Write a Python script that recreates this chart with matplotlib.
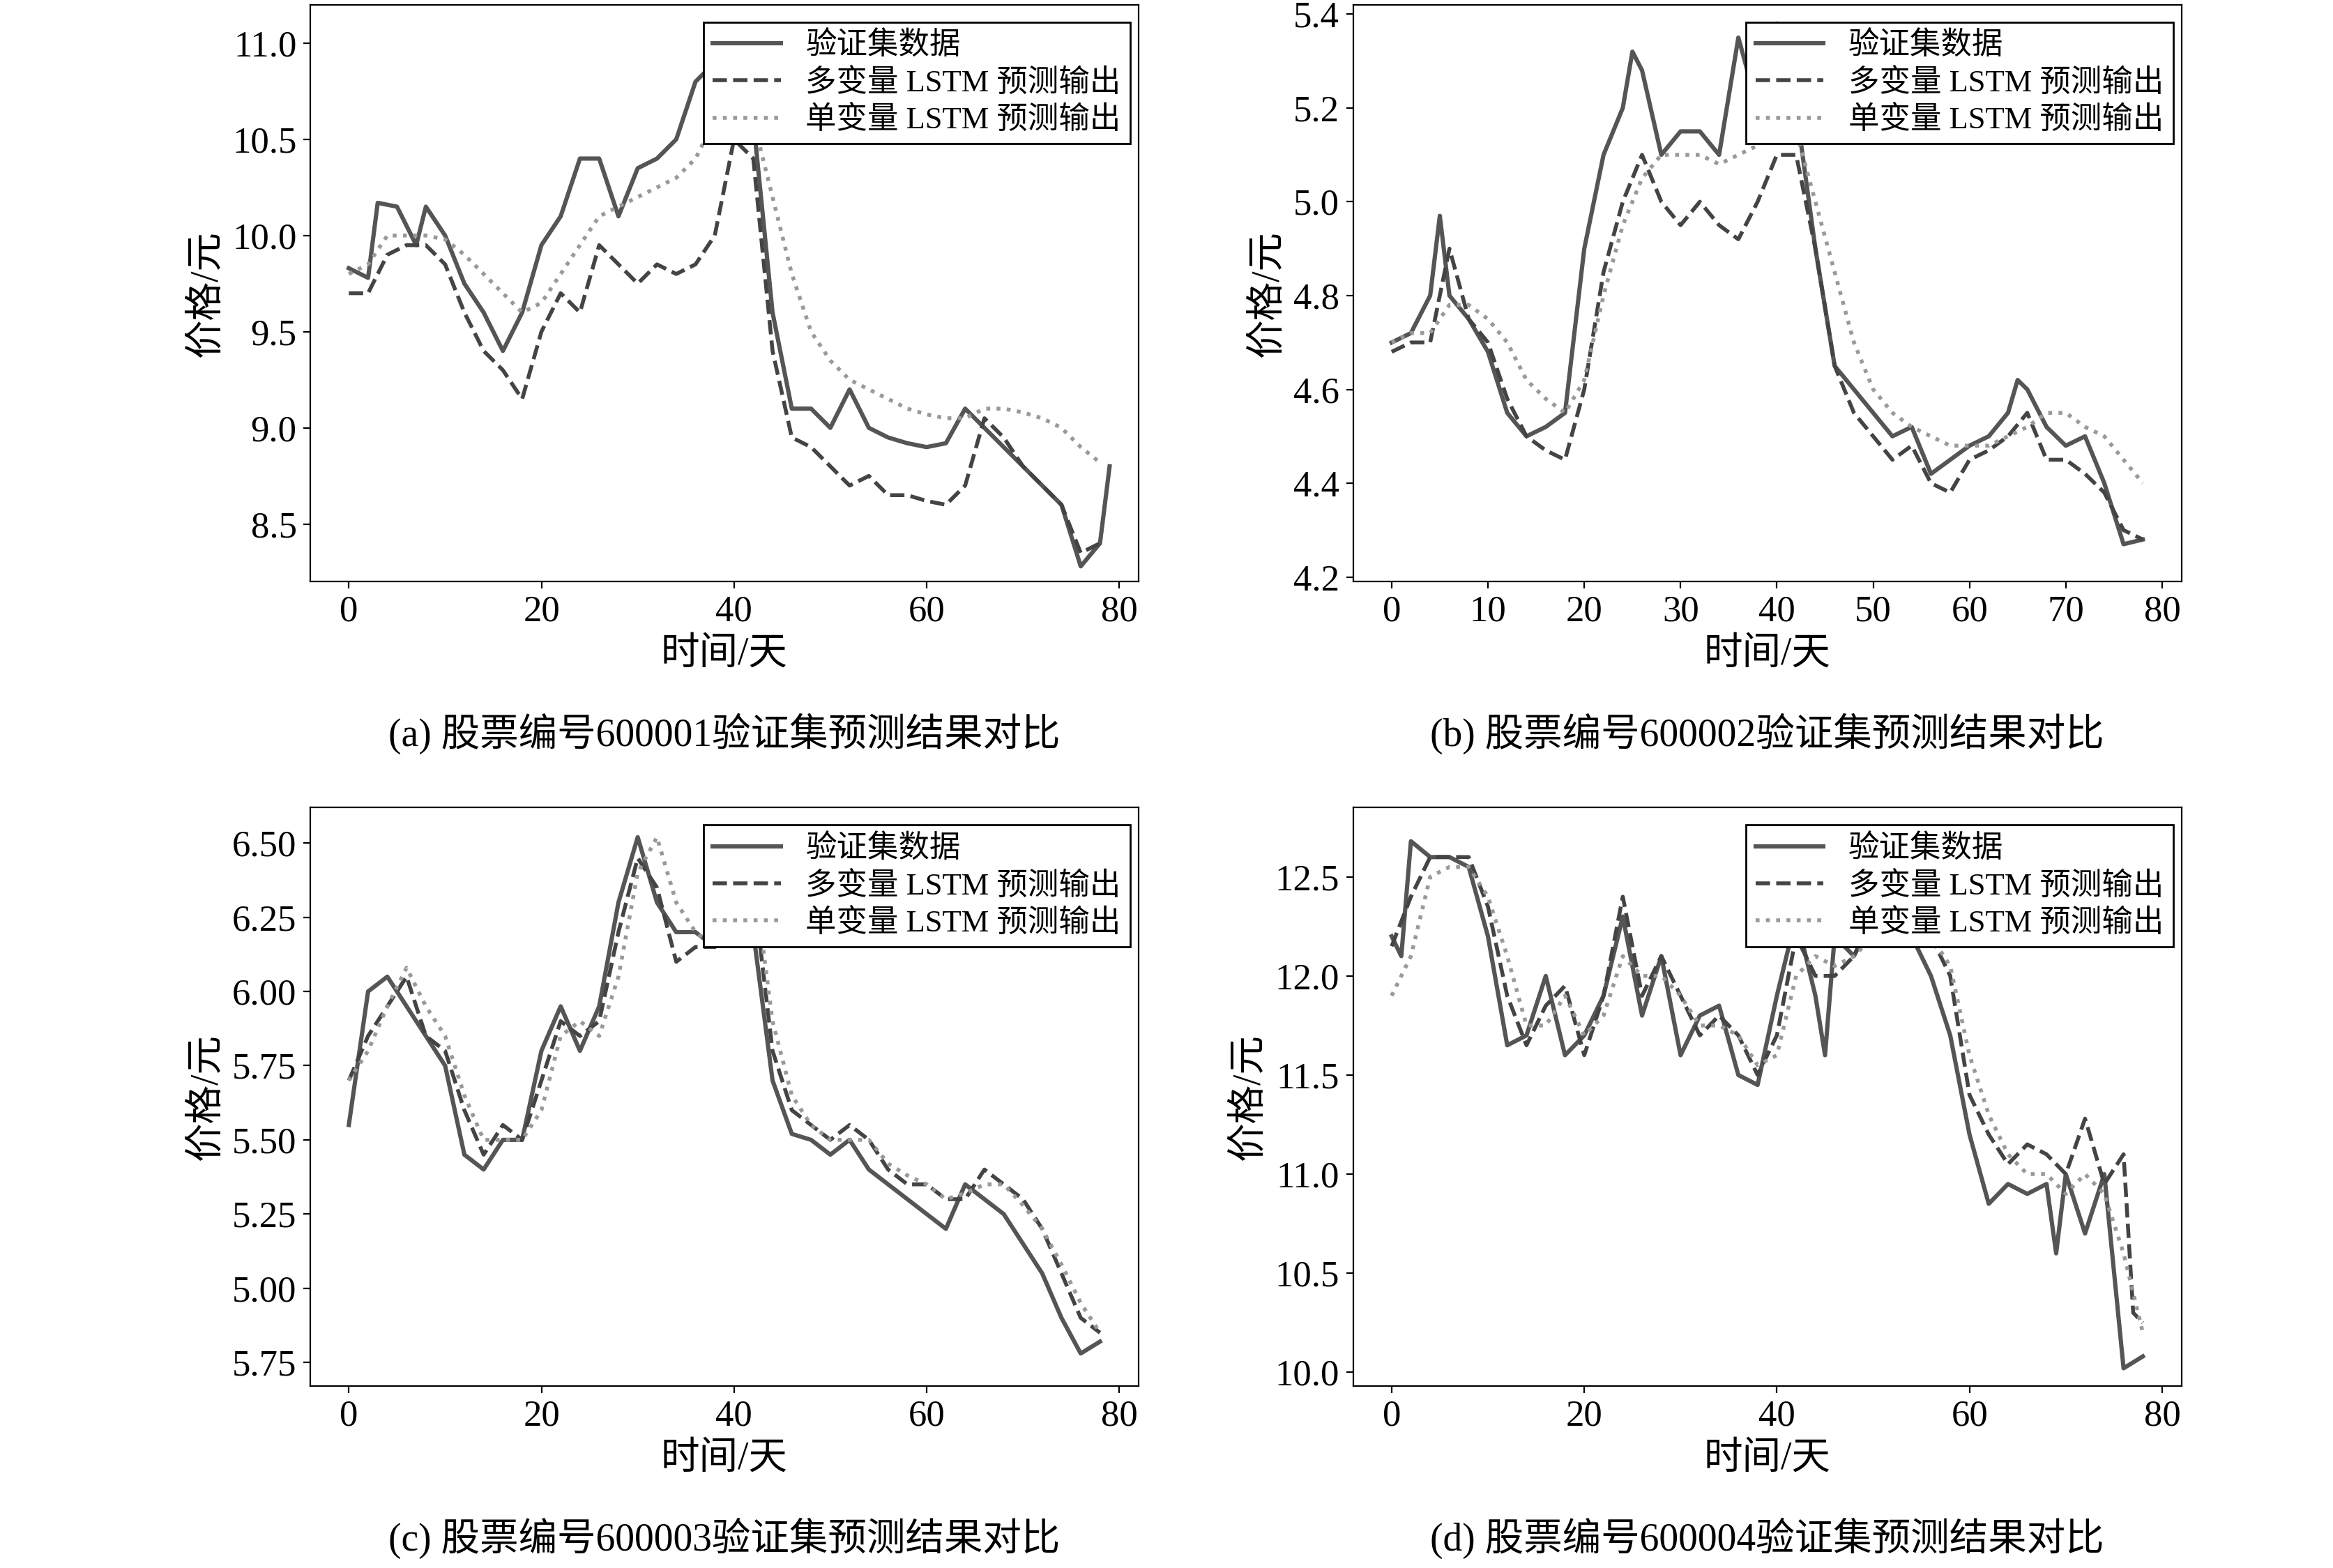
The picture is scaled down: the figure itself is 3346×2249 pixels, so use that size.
import matplotlib.pyplot as plt

plt.rcParams['font.family'] = ['Liberation Serif', 'Noto Sans CJK SC']
plt.rcParams['font.size'] = 19

LABELS = ['验证集数据', '多变量 LSTM 预测输出', '单变量 LSTM 预测输出']

# (天, 价格) pairs
a_true = [(0,9.83),(2,9.78),(3,10.17),(5,10.15),(6,10.05),(7,9.95),(8,10.15),(10,10.0),(12,9.75),(14,9.6),(16,9.4),(18,9.6),(20,9.95),(22,10.1),(24,10.4),(26,10.4),(28,10.1),(30,10.35),(32,10.4),(34,10.5),(36,10.8),(38,10.9),(40,11.1),(42,10.6),(44,9.6),(46,9.1),(48,9.1),(50,9.0),(52,9.2),(54,9.0),(56,8.95),(58,8.92),(60,8.9),(62,8.92),(64,9.1),(66,9.0),(68,8.9),(70,8.8),(72,8.7),(74,8.6),(76,8.28),(78,8.4),(79,8.8)]
a_multi = [(0,9.7),(2,9.7),(4,9.9),(6,9.95),(8,9.95),(10,9.85),(12,9.6),(14,9.4),(16,9.3),(18,9.15),(20,9.5),(22,9.7),(24,9.6),(26,9.95),(28,9.85),(30,9.75),(32,9.85),(34,9.8),(36,9.85),(38,10.0),(40,10.5),(42,10.4),(44,9.4),(46,8.95),(48,8.9),(50,8.8),(52,8.7),(54,8.75),(56,8.65),(58,8.65),(60,8.62),(62,8.6),(64,8.7),(66,9.05),(68,8.95),(70,8.8),(72,8.7),(74,8.6),(76,8.35),(78,8.4)]
a_uni = [(0,9.8),(2,9.85),(4,10.0),(6,10.0),(8,10.0),(10,9.98),(12,9.9),(14,9.8),(16,9.7),(18,9.6),(20,9.65),(22,9.8),(24,9.95),(26,10.1),(28,10.15),(30,10.2),(32,10.25),(34,10.3),(36,10.4),(38,10.6),(40,10.7),(42,10.6),(44,10.2),(46,9.8),(48,9.5),(50,9.35),(52,9.25),(54,9.2),(56,9.15),(58,9.1),(60,9.07),(62,9.05),(64,9.05),(66,9.1),(68,9.1),(70,9.08),(72,9.05),(74,9.0),(76,8.9),(78,8.82)]

b_true = [(0,4.7),(2,4.72),(4,4.8),(5,4.97),(6,4.8),(8,4.75),(10,4.68),(12,4.55),(14,4.5),(16,4.52),(18,4.55),(20,4.9),(22,5.1),(24,5.2),(25,5.32),(26,5.28),(28,5.1),(30,5.15),(32,5.15),(34,5.1),(36,5.35),(38,5.2),(40,5.38),(42,5.2),(44,4.9),(46,4.65),(48,4.6),(50,4.55),(52,4.5),(54,4.52),(56,4.42),(58,4.45),(60,4.48),(62,4.5),(64,4.55),(65,4.62),(66,4.6),(68,4.52),(70,4.48),(72,4.5),(74,4.4),(76,4.27),(78,4.28)]
b_multi = [(0,4.68),(2,4.7),(4,4.7),(6,4.9),(8,4.75),(10,4.7),(12,4.58),(14,4.5),(16,4.47),(18,4.45),(20,4.6),(22,4.85),(24,5.0),(26,5.1),(28,5.0),(30,4.95),(32,5.0),(34,4.95),(36,4.92),(38,5.0),(40,5.1),(42,5.1),(44,4.9),(46,4.65),(48,4.55),(50,4.5),(52,4.45),(54,4.48),(56,4.4),(58,4.38),(60,4.45),(62,4.47),(64,4.5),(66,4.55),(68,4.45),(70,4.45),(72,4.42),(74,4.38),(76,4.3),(78,4.28)]
b_uni = [(0,4.7),(2,4.72),(4,4.72),(6,4.78),(8,4.78),(10,4.75),(12,4.7),(14,4.62),(16,4.58),(18,4.55),(20,4.62),(22,4.8),(24,4.95),(26,5.05),(28,5.1),(30,5.1),(32,5.1),(34,5.08),(36,5.1),(38,5.12),(40,5.15),(42,5.15),(44,5.0),(46,4.85),(48,4.7),(50,4.6),(52,4.55),(54,4.52),(56,4.5),(58,4.48),(60,4.48),(62,4.48),(64,4.5),(66,4.52),(68,4.55),(70,4.55),(72,4.52),(74,4.5),(76,4.45),(78,4.4)]

c_true = [(0,5.55),(2,6.0),(4,6.05),(6,5.95),(8,5.85),(10,5.75),(12,5.45),(14,5.4),(16,5.5),(18,5.5),(20,5.8),(22,5.95),(24,5.8),(26,5.95),(28,6.3),(30,6.52),(32,6.3),(34,6.2),(36,6.2),(38,6.15),(40,6.4),(42,6.2),(44,5.7),(46,5.52),(48,5.5),(50,5.45),(52,5.5),(54,5.4),(56,5.35),(58,5.3),(60,5.25),(62,5.2),(64,5.35),(66,5.3),(68,5.25),(70,5.15),(72,5.05),(74,4.9),(76,4.78),(78,4.82)]
c_multi = [(0,5.7),(2,5.85),(4,5.95),(6,6.05),(8,5.85),(10,5.8),(12,5.6),(14,5.45),(16,5.55),(18,5.5),(20,5.7),(22,5.9),(24,5.85),(26,5.9),(28,6.2),(30,6.45),(32,6.35),(34,6.1),(36,6.15),(38,6.15),(40,6.3),(42,6.35),(44,5.8),(46,5.6),(48,5.55),(50,5.5),(52,5.55),(54,5.5),(56,5.4),(58,5.35),(60,5.35),(62,5.3),(64,5.3),(66,5.4),(68,5.35),(70,5.3),(72,5.2),(74,5.05),(76,4.9),(78,4.85)]
c_uni = [(0,5.7),(2,5.8),(4,5.95),(6,6.08),(8,5.95),(10,5.85),(12,5.65),(14,5.5),(16,5.5),(18,5.5),(20,5.6),(22,5.85),(24,5.9),(26,5.85),(28,6.05),(30,6.4),(32,6.52),(34,6.3),(36,6.2),(38,6.15),(40,6.2),(42,6.4),(44,5.9),(46,5.65),(48,5.55),(50,5.5),(52,5.5),(54,5.5),(56,5.42),(58,5.38),(60,5.35),(62,5.3),(64,5.32),(66,5.35),(68,5.35),(70,5.28),(72,5.2),(74,5.08),(76,4.95),(78,4.85)]

d_true = [(0,12.2),(1,12.1),(2,12.68),(4,12.6),(6,12.6),(8,12.55),(10,12.2),(12,11.65),(14,11.7),(16,12.0),(18,11.6),(20,11.7),(22,11.9),(24,12.3),(26,11.8),(28,12.1),(30,11.6),(32,11.8),(34,11.85),(36,11.5),(38,11.45),(40,11.9),(42,12.3),(44,11.9),(45,11.6),(46,12.2),(48,12.1),(50,12.3),(52,12.3),(54,12.2),(56,12.0),(58,11.7),(60,11.2),(62,10.85),(64,10.95),(66,10.9),(68,10.95),(69,10.6),(70,11.0),(72,10.7),(74,11.0),(76,10.02),(78,10.08)]
d_multi = [(0,12.15),(2,12.4),(4,12.6),(6,12.6),(8,12.6),(10,12.35),(12,11.9),(14,11.65),(16,11.85),(18,11.95),(20,11.6),(22,11.9),(24,12.4),(26,11.9),(28,12.1),(30,11.9),(32,11.7),(34,11.8),(36,11.7),(38,11.5),(40,11.7),(42,12.2),(44,12.0),(46,12.0),(48,12.1),(50,12.3),(52,12.3),(54,12.25),(56,12.2),(58,12.0),(60,11.4),(62,11.2),(64,11.05),(66,11.15),(68,11.1),(70,11.0),(72,11.28),(74,10.95),(76,11.1),(77,10.3),(78,10.25)]
d_uni = [(0,11.9),(2,12.1),(4,12.5),(6,12.55),(8,12.55),(10,12.4),(12,12.1),(14,11.75),(16,11.75),(18,11.9),(20,11.7),(22,11.8),(24,12.1),(26,12.0),(28,12.0),(30,11.9),(32,11.75),(34,11.75),(36,11.7),(38,11.55),(40,11.6),(42,12.0),(44,12.1),(46,12.05),(48,12.1),(50,12.2),(52,12.3),(54,12.3),(56,12.2),(58,12.05),(60,11.6),(62,11.3),(64,11.1),(66,11.0),(68,11.0),(70,10.9),(72,11.0),(74,10.9),(76,10.6),(78,10.2)]

captions = ['(a) 股票编号600001验证集预测结果对比', '(b) 股票编号600002验证集预测结果对比',
            '(c) 股票编号600003验证集预测结果对比', '(d) 股票编号600004验证集预测结果对比']

panels = [
    ([a_true, a_multi, a_uni], (8.2, 11.2), [8.5, 9.0, 9.5, 10.0, 10.5, 11.0], ['8.5','9.0','9.5','10.0','10.5','11.0'], [0,20,40,60,80]),
    ([b_true, b_multi, b_uni], (4.19, 5.42), [4.2,4.4,4.6,4.8,5.0,5.2,5.4], ['4.2','4.4','4.6','4.8','5.0','5.2','5.4'], [0,10,20,30,40,50,60,70,80]),
    ([c_true, c_multi, c_uni], (4.67, 6.62), [4.75,5.0,5.25,5.5,5.75,6.0,6.25,6.5], ['5.75','5.00','5.25','5.50','5.75','6.00','6.25','6.50'], [0,20,40,60,80]),
    ([d_true, d_multi, d_uni], (9.93, 12.85), [10.0,10.5,11.0,11.5,12.0,12.5], ['10.0','10.5','11.0','11.5','12.0','12.5'], [0,20,40,60,80]),
]

boxes = [[0.133, 0.629, 0.355, 0.368], [0.580, 0.629, 0.355, 0.368],
         [0.133, 0.116, 0.355, 0.369], [0.580, 0.116, 0.355, 0.369]]
styles = [dict(color='#555555', ls='-', lw=2.2), dict(color='#444444', ls='--', lw=2.0),
          dict(color='#999999', ls=':', lw=2.0)]

fig = plt.figure(figsize=(16.73, 11.245), dpi=200)
for i, (series, ylim, yt, ytl, xt) in enumerate(panels):
    ax = fig.add_axes(boxes[i])
    for s, st, lab in zip(series, styles, LABELS):
        ax.plot([p[0] for p in s], [p[1] for p in s], label=lab, **st)
    ax.set_xlim(-4, 82)
    ax.set_ylim(*ylim)
    ax.set_xticks(xt)
    ax.set_yticks(yt)
    ax.set_yticklabels(ytl)
    ax.set_xlabel('时间/天', fontsize=20)
    ax.set_ylabel('价格/元', fontsize=20)
    leg = ax.legend(loc='upper right', bbox_to_anchor=(0.99, 0.97), fancybox=False,
                    edgecolor='black', framealpha=1, borderaxespad=0, handlelength=2.2,
                    fontsize=16, labelspacing=0.25, borderpad=0.3)
    leg.get_frame().set_linewidth(1.0)
    b = boxes[i]
    fig.text(b[0] + b[2] / 2, b[1] - 0.097, captions[i], ha='center', va='center', fontsize=20)

fig.savefig('out.png', dpi=200)
